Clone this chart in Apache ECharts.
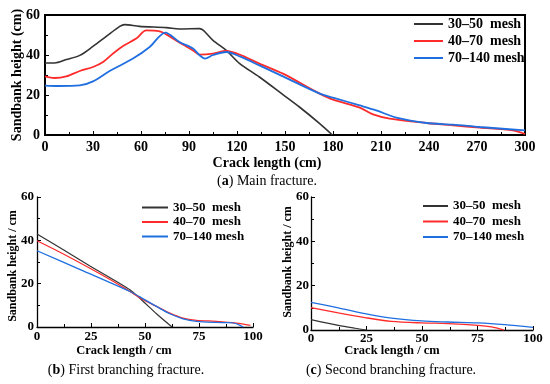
<!DOCTYPE html>
<html>
<head>
<meta charset="utf-8">
<script src="https://cdn.jsdelivr.net/npm/echarts@6/dist/echarts.min.js"></script>
<style>html,body{margin:0;padding:0;background:#fff}#c{width:550px;height:384px}</style>
</head>
<body>
<div id="c"></div>
<script>
// ---- Data ----
const seriesNames = ['30–50  mesh', '40–70  mesh', '70–140 mesh'];

// (a) Main fracture
const mainX1 = [0, 6, 13.3, 21.7, 30, 38.3, 46.7, 49.8, 59, 75.8, 84, 96.7, 99, 105, 113.3, 121.7, 134, 148.7, 159, 171.7, 179.6];
const mainY1 = [36, 36, 37.7, 39.8, 44.3, 49.3, 54.3, 55.2, 54.3, 53.7, 53, 53.2, 52.3, 47.3, 42.3, 35.7, 29, 20.2, 14, 5.7, 0];
const mainX2 = [0, 6, 13.3, 21.7, 30, 36.3, 42.5, 48.8, 57, 63.3, 71.7, 75.8, 84, 92.5, 96.7, 105, 113.3, 121.7, 134, 148.7, 171.7, 180, 196.7, 205, 215.4, 238.4, 255, 271.7, 292.5, 300];
const mainY2 = [29.3, 28.5, 29.3, 32, 34, 36.5, 40.7, 44.5, 48.2, 52.3, 51.8, 50.3, 46.2, 42.3, 40.2, 40.7, 42, 40.2, 35.7, 30.7, 20.7, 17.7, 13.7, 10.3, 8.2, 6, 4.8, 3.7, 2.3, 0.5];
const mainX3 = [0, 8, 21.7, 30, 40.4, 55, 65.4, 75.2, 84, 92.5, 96.7, 100, 105, 113.4, 121.7, 134, 148.7, 171.7, 180, 196.7, 207, 219.6, 238.4, 255, 271.7, 300];
const mainY3 = [24.7, 24.5, 24.8, 26.8, 32, 38.2, 44, 51.2, 46.5, 43.2, 39.8, 38.2, 40, 41.5, 39.3, 34.8, 29.3, 20.7, 18.7, 14.8, 12.3, 8.7, 6, 5.2, 4, 2.3];

// (b) First branching fracture
const firstX1 = [0, 12, 24.5, 36.8, 43, 49.2, 55.3, 62.5];
const firstY1 = [42.9, 35.8, 28.2, 21, 17.2, 11.8, 6.1, 0];
const firstX2 = [0, 12.2, 24.5, 36.8, 43, 49.2, 55.3, 61.5, 67.6, 73.8, 83, 92.3, 98.8];
const firstY2 = [39.8, 33.7, 27.1, 20.2, 16.4, 12.6, 9.5, 6.4, 4.1, 3.1, 2.6, 1.8, 0.8];
const firstX3 = [0, 20, 43, 49.2, 55.3, 61.5, 67.6, 73.8, 83, 89.2, 92.3, 95.4];
const firstY3 = [35.2, 26.5, 16.4, 13, 9.5, 6.1, 3.8, 2.6, 2.1, 2, 1.5, 0];

// (c) Second branching fracture
const secondX1 = [0, 12.3, 19.8, 25];
const secondY1 = [4.7, 2.1, 0.8, 0];
const secondX2 = [0, 12.3, 24.3, 36.3, 49.8, 61.8, 75.3, 81.3, 86.8];
const secondY2 = [10.1, 7.7, 5.6, 3.9, 3.2, 2.9, 2.1, 1.4, 0];
const secondX3 = [0, 12.3, 24.3, 36.3, 49.8, 61.8, 75.3, 87.3, 100];
const secondY3 = [12.5, 10, 7.4, 5.4, 4.1, 3.6, 3.2, 2.4, 1.2];

const colors = ['#333333', '#ff2b2b', '#1f6fe0'];
const FONT = '"Liberation Serif", "Times New Roman", serif';

function pairs(xs, ys) { return xs.map((x, i) => [x, ys[i]]); }

function xAxisCfg(gi, max, interval, fs, lw, margin) {
  return {
    type: 'value', gridIndex: gi, min: 0, max: max, interval: interval,
    axisLine: { show: true, onZero: false, lineStyle: { color: '#000', width: lw } },
    axisTick: { show: true, inside: true, length: 4, lineStyle: { color: '#000', width: 1 } },
    minorTick: { show: true, splitNumber: 2, length: 3, lineStyle: { color: '#000', width: 1 } },
    splitLine: { show: false }, minorSplitLine: { show: false },
    axisLabel: { color: '#000', fontFamily: FONT, fontWeight: 'bold', fontSize: fs, margin: margin }
  };
}
function yAxisCfg(gi, fs, lw, margin) {
  return {
    type: 'value', gridIndex: gi, min: 0, max: 60, interval: 20,
    axisLine: { show: true, onZero: false, lineStyle: { color: '#000', width: lw } },
    axisTick: { show: true, inside: true, length: 4, lineStyle: { color: '#000', width: 1 } },
    minorTick: { show: true, splitNumber: 2, length: 3, lineStyle: { color: '#000', width: 1 } },
    splitLine: { show: false }, minorSplitLine: { show: false },
    axisLabel: { color: '#000', fontFamily: FONT, fontWeight: 'bold', fontSize: fs, margin: margin }
  };
}
function line(name, idx, data, w, color) {
  return {
    type: 'line', name: name, xAxisIndex: idx, yAxisIndex: idx, data: data,
    showSymbol: false, symbol: 'none', smooth: 0.3, clip: true,
    lineStyle: { color: color, width: w }, itemStyle: { color: color },
    emphasis: { disabled: true }, animation: false
  };
}
function legendCfg(left, top, iw, fs, lh, gap) {
  return {
    orient: 'vertical', left: left, top: top, padding: 0, itemGap: gap,
    icon: 'rect', itemWidth: iw, itemHeight: 2,
    data: seriesNames, selectedMode: false,
    textStyle: { color: '#000', fontFamily: FONT, fontWeight: 'bold', fontSize: fs, lineHeight: lh }
  };
}
function txt(text, x, y, size, bold, rot) {
  return {
    type: 'text', x: x, y: y, rotation: rot || 0, silent: true,
    style: {
      text: text, fill: '#000', align: 'center', verticalAlign: 'middle',
      font: (bold ? 'bold ' : '') + size + 'px ' + FONT,
      rich: { b: { fontWeight: 'bold', fontSize: size, fontFamily: FONT, fill: '#000' } }
    }
  };
}

const chart = echarts.init(document.getElementById('c'), null, { renderer: 'canvas' });
chart.setOption({
  animation: false,
  backgroundColor: '#fff',
  grid: [
    { left: 45, top: 15, width: 480, height: 120, show: true, borderColor: '#000', borderWidth: 2, backgroundColor: 'transparent', containLabel: false, outerBoundsMode: 'none' },
    { left: 37, top: 197, width: 216, height: 130, containLabel: false, outerBoundsMode: 'none' },
    { left: 311, top: 197, width: 222, height: 133, containLabel: false, outerBoundsMode: 'none' }
  ],
  xAxis: [xAxisCfg(0, 300, 30, 14, 2, 5), xAxisCfg(1, 100, 25, 13, 1.3, 3), xAxisCfg(2, 100, 25, 13, 1.3, 2)],
  yAxis: [yAxisCfg(0, 14, 2, 5), yAxisCfg(1, 13, 1.3, 3), yAxisCfg(2, 13, 1.3, 2)],
  legend: [
    legendCfg(414, 17, 29, 14, 14, 3),
    legendCfg(142, 201, 26, 13, 13, 1.5),
    legendCfg(423, 199.5, 25, 13, 13, 2.5)
  ],
  series: [
    line(seriesNames[0], 0, pairs(mainX1, mainY1), 1.6, colors[0]),
    line(seriesNames[1], 0, pairs(mainX2, mainY2), 1.8, colors[1]),
    line(seriesNames[2], 0, pairs(mainX3, mainY3), 1.8, colors[2]),
    line(seriesNames[0], 1, pairs(firstX1, firstY1), 1.2, colors[0]),
    line(seriesNames[1], 1, pairs(firstX2, firstY2), 1.3, colors[1]),
    line(seriesNames[2], 1, pairs(firstX3, firstY3), 1.3, colors[2]),
    line(seriesNames[0], 2, pairs(secondX1, secondY1), 1.2, colors[0]),
    line(seriesNames[1], 2, pairs(secondX2, secondY2), 1.3, colors[1]),
    line(seriesNames[2], 2, pairs(secondX3, secondY3), 1.3, colors[2])
  ],
  graphic: [
    txt('Sandbank height (cm)', 17, 75, 14, true, Math.PI / 2),
    txt('Crack length (cm)', 267, 163, 14, true),
    txt('({b|a}) Main fracture.', 267, 181, 14, false),
    txt('Sandbank height / cm', 13, 266, 12, true, Math.PI / 2),
    txt('Crack length / cm', 124, 351, 12.5, true),
    txt('({b|b}) First branching fracture.', 126, 370, 14, false),
    txt('Sandbank height / cm', 288, 262, 12, true, Math.PI / 2),
    txt('Crack length / cm', 392, 351, 12.5, true),
    txt('({b|c}) Second branching fracture.', 391, 370, 14, false)
  ]
});
</script>
</body>
</html>
